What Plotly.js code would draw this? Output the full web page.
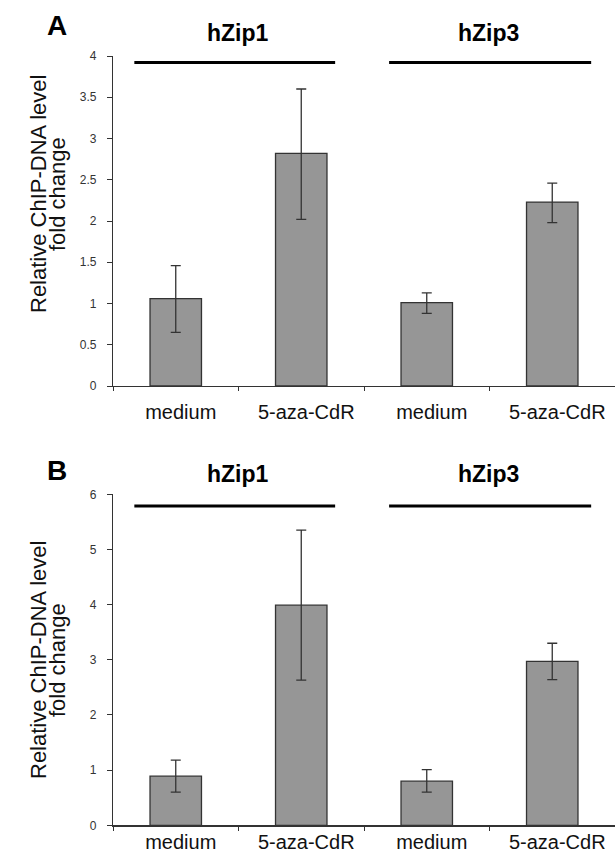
<!DOCTYPE html>
<html>
<head>
<meta charset="utf-8">
<script src="https://cdn.plot.ly/plotly-3.0.1.min.js"></script>
<style>
  html, body { margin: 0; padding: 0; background: #ffffff; }
  #chart { width: 615px; height: 860px; }
</style>
</head>
<body>
<div id="chart"></div>
<script>
// ---- Data ----
const panelLabels = ['A', 'B'];
const groupNames = ['hZip1', 'hZip3'];
const treatments = ['medium', '5-aza-CdR'];
const categoryIds = ['hZip1 medium', 'hZip1 5-aza-CdR', 'hZip3 medium', 'hZip3 5-aza-CdR'];
const categoryLabels = ['medium', '5-aza-CdR', 'medium', '5-aza-CdR'];

const panelA_values = [1.06, 2.82, 1.01, 2.23];
const panelA_errPlus = [0.40, 0.78, 0.12, 0.23];
const panelA_errMinus = [0.41, 0.80, 0.13, 0.25];

const panelB_values = [0.89, 3.99, 0.80, 2.97];
const panelB_errPlus = [0.29, 1.36, 0.21, 0.33];
const panelB_errMinus = [0.29, 1.36, 0.20, 0.33];

const yTitleLine1 = 'Relative ChIP-DNA level';
const yTitleLine2 = 'fold change';

// ---- Styling ----
const FONT = 'Liberation Sans, Arial, Helvetica, sans-serif';
const W = 615, H = 860;
const barFill = '#969696';
const darkGray = '#333333';

function barTrace(values, plus, minus, xa, ya) {
  return {
    type: 'bar',
    x: categoryIds,
    y: values,
    xaxis: xa,
    yaxis: ya,
    marker: { color: barFill, line: { color: darkGray, width: 1.3 } },
    error_y: {
      type: 'data', symmetric: false,
      array: plus, arrayminus: minus,
      color: darkGray, thickness: 1.3, width: 5
    },
    showlegend: false,
    hoverinfo: 'skip'
  };
}

const data = [
  barTrace(panelA_values, panelA_errPlus, panelA_errMinus, 'x', 'y'),
  barTrace(panelB_values, panelB_errPlus, panelB_errMinus, 'x2', 'y2')
];

const xDomain = [113 / W, 1];
function xAxis(anchor, standoff) {
  return {
    domain: xDomain,
    anchor: anchor,
    type: 'category',
    range: [-0.5, 3.5],
    tickmode: 'array',
    tickvals: categoryIds,
    ticktext: categoryLabels,
    tickson: 'boundaries',
    ticks: 'outside',
    ticklen: 4,
    tickwidth: 1,
    tickcolor: darkGray,
    showline: true,
    linecolor: darkGray,
    linewidth: 1.2,
    showgrid: false,
    zeroline: false,
    ticklabelstandoff: standoff,
    ticklabelshift: 5,
    tickfont: { family: FONT, size: 20, color: '#111111' },
    fixedrange: true
  };
}
function yAxis(anchor, domPx, maxV, dtick) {
  return {
    domain: [1 - domPx[1] / H, 1 - domPx[0] / H],
    anchor: anchor,
    range: [0, maxV],
    dtick: dtick,
    tick0: 0,
    ticks: 'outside',
    ticklen: 5,
    tickwidth: 1,
    tickcolor: darkGray,
    showline: true,
    linecolor: darkGray,
    linewidth: 1.2,
    showgrid: false,
    zeroline: false,
    ticklabelstandoff: 8,
    tickfont: { family: FONT, size: 12, color: darkGray },
    fixedrange: true
  };
}

function px(v, total) { return 1 - v / total; }

const annotations = [];
function addPanelText(label, labelY, groupY, titleY) {
  annotations.push({
    text: '<b>' + label + '</b>', xref: 'paper', yref: 'paper',
    x: 57 / W, y: px(labelY, H), xanchor: 'center', yanchor: 'middle',
    showarrow: false, font: { family: FONT, size: 28, color: '#000000' }
  });
  const groupX = [238, 488];
  groupNames.forEach((g, i) => {
    annotations.push({
      text: '<b>' + g + '</b>', xref: 'paper', yref: 'paper',
      x: groupX[i] / W, y: px(groupY, H), xanchor: 'center', yanchor: 'middle',
      showarrow: false, font: { family: FONT, size: 23, color: '#000000' }
    });
  });
  annotations.push({
    text: yTitleLine1, xref: 'paper', yref: 'paper', textangle: -90,
    x: 38 / W, y: px(titleY, H), xanchor: 'center', yanchor: 'middle',
    showarrow: false, font: { family: FONT, size: 22, color: '#111111' }
  });
  annotations.push({
    text: yTitleLine2, xref: 'paper', yref: 'paper', textangle: -90,
    x: 57 / W, y: px(titleY, H), xanchor: 'center', yanchor: 'middle',
    showarrow: false, font: { family: FONT, size: 22, color: '#111111' }
  });
}
addPanelText(panelLabels[0], 26, 33, 194);
addPanelText(panelLabels[1], 470, 474, 660);

const shapes = [];
function groupLines(xref, yref, yv) {
  [[-0.33, 1.27], [1.70, 3.31]].forEach(([a, b]) => {
    shapes.push({
      type: 'line', xref: xref, yref: yref, x0: a, x1: b, y0: yv, y1: yv,
      line: { color: '#000000', width: 3 }
    });
  });
}
groupLines('x', 'y', 3.92);
groupLines('x2', 'y2', 5.79);

const layout = {
  width: W,
  height: H,
  margin: { l: 0, r: 0, t: 0, b: 0 },
  paper_bgcolor: '#ffffff',
  plot_bgcolor: '#ffffff',
  bargap: 0.59,
  showlegend: false,
  xaxis: xAxis('y', 8),
  yaxis: yAxis('x', [56, 386], 4, 0.5),
  xaxis2: xAxis('y2', -2),
  yaxis2: yAxis('x2', [494.3, 825.3], 6, 1),
  annotations: annotations,
  shapes: shapes,
  font: { family: FONT }
};

Plotly.newPlot('chart', data, layout, { displayModeBar: false, staticPlot: true });
</script>
</body>
</html>
